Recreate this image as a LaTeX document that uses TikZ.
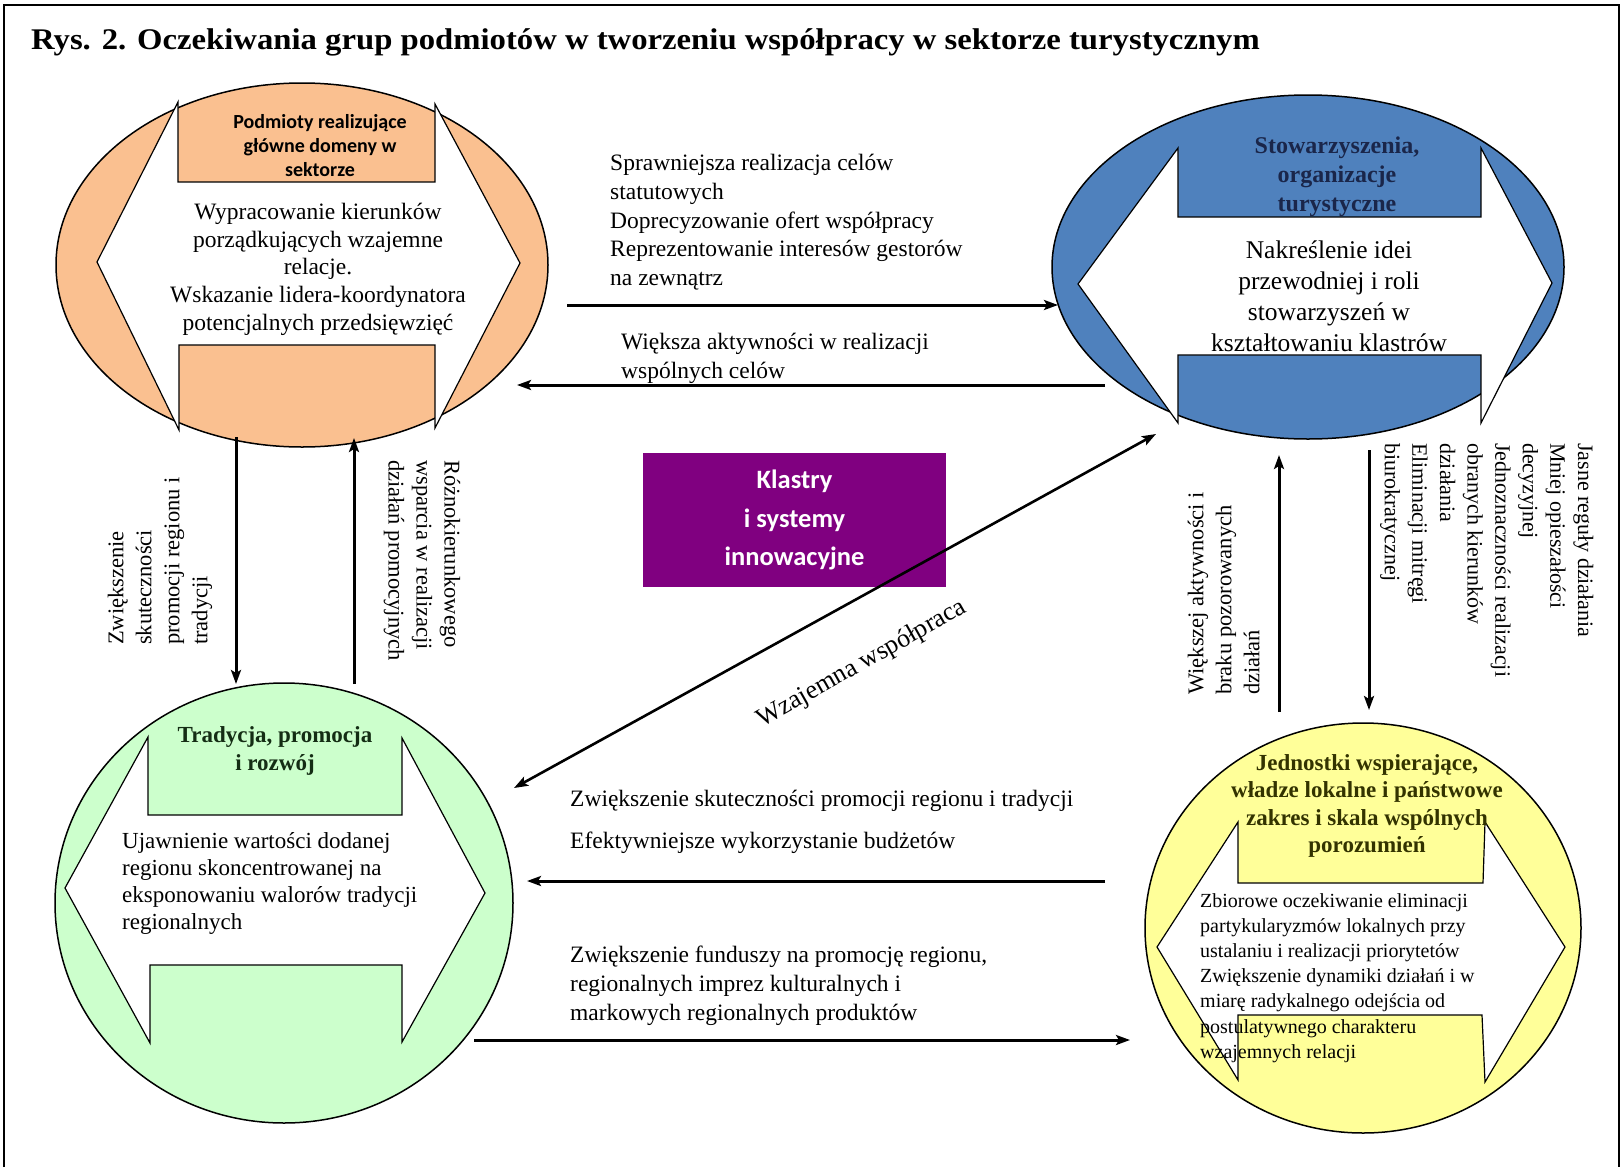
\documentclass[tikz,border=0pt]{standalone}
\usepackage{fontspec}
\setmainfont{Liberation Serif}
\newfontfamily\calib{Carlito}
\usetikzlibrary{shapes.geometric,arrows.meta}
\definecolor{orF}{RGB}{250,192,144}
\definecolor{blF}{RGB}{79,129,189}
\definecolor{grF}{RGB}{204,255,204}
\definecolor{yeF}{RGB}{255,255,153}
\definecolor{puF}{RGB}{128,0,128}
\definecolor{blT}{RGB}{26,38,74}
\definecolor{yeT}{RGB}{51,51,0}
\definecolor{grT}{RGB}{20,45,20}
\begin{document}
\begin{tikzpicture}[x=1pt,y=-1pt,
  blob/.style={ellipse, draw=black, line width=1.5pt, inner sep=0pt},
  innershape/.style={fill=white, draw=black, line width=1.2pt, line join=miter},
  lbl/.style={inner sep=0pt, font=\fontsize{23.5}{28.8}\selectfont, align=left},
  rlbl/.style={inner sep=0pt, font=\fontsize{22.5}{28}\selectfont, align=left},
  conn/.style={line width=3pt, -{Stealth[length=14pt,width=10pt,inset=3pt]}},
  dconn/.style={line width=2.6pt, {Stealth[length=14pt,width=10pt,inset=3pt]}-{Stealth[length=14pt,width=10pt,inset=3pt]}},
]
\useasboundingbox (0,0) rectangle (1622,1167);
% frame
\draw[line width=2.5pt] (4,1167) -- (4,5) -- (1619,5) -- (1619,1167);
% title
\node[anchor=west, inner sep=0pt, font=\bfseries\fontsize{30}{34}\selectfont] (title) at (31,42)
  {\scalebox{1.09}[1]{Rys. 2. Oczekiwania grup podmiotów w tworzeniu współpracy w sektorze turystycznym}};

% ---------- orange: Podmioty
\node[blob, fill=orF, minimum width=492pt, minimum height=364pt] (pod) at (302,265) {};
\path[innershape] (178,102) -- (178,182) -- (435,182) -- (435,104) -- (520,263) -- (435,428)
  -- (435,345) -- (179,345) -- (179,430) -- (97,262) -- cycle;
\node[anchor=north, inner sep=0pt, align=center, font=\calib\bfseries\fontsize{20}{24}\selectfont] (podT) at (320,114)
  {Podmioty realizujące\\główne domeny w\\sektorze};
\node[anchor=north, inner sep=0pt, align=center, font=\fontsize{23.5}{27.7}\selectfont] (podB) at (318,203)
  {Wypracowanie kierunków\\porządkujących wzajemne\\relacje.\\Wskazanie lidera-koordynatora\\potencjalnych przedsięwzięć};

% ---------- blue: Stowarzyszenia
\node[blob, fill=blF, minimum width=512pt, minimum height=344pt] (stow) at (1308,267) {};
\path[innershape] (1178,148) -- (1178,217) -- (1481,217) -- (1481,148) -- (1552,283) -- (1481,423)
  -- (1481,355) -- (1178,355) -- (1178,423) -- (1078,284) -- cycle;
\node[anchor=north, inner sep=0pt, align=center, text=blT, font=\bfseries\fontsize{24}{29}\selectfont] (stowT) at (1337,137)
  {Stowarzyszenia,\\organizacje\\turystyczne};
\node[anchor=north, inner sep=0pt, align=center, font=\fontsize{25.5}{31}\selectfont] (stowB) at (1329,241)
  {Nakreślenie idei\\przewodniej i roli\\stowarzyszeń w\\kształtowaniu klastrów};

% ---------- green: Tradycja
\node[blob, fill=grF, minimum width=458pt, minimum height=440pt] (trad) at (284,903) {};
\path[innershape] (148,737) -- (148,815) -- (402,815) -- (402,738) -- (485,893) -- (402,1042)
  -- (402,965) -- (150,965) -- (150,1043) -- (65,888) -- cycle;
\node[anchor=north, inner sep=0pt, align=center, text=grT, font=\bfseries\fontsize{23}{28}\selectfont] (tradT) at (275,726)
  {Tradycja, promocja\\i rozwój};
\node[anchor=north west, inner sep=0pt, align=left, font=\fontsize{23}{27}\selectfont] (tradB) at (122,832)
  {Ujawnienie wartości dodanej\\regionu skoncentrowanej na\\eksponowaniu walorów tradycji\\regionalnych};

% ---------- yellow: Jednostki
\node[blob, fill=yeF, minimum width=436pt, minimum height=410pt] (jedn) at (1363,928) {};
\path[innershape] (1238,822) -- (1238,883) -- (1483,883) -- (1485,822) -- (1565,947) -- (1485,1082)
  -- (1482,1015) -- (1238,1015) -- (1238,1080) -- (1157,947) -- cycle;
\node[anchor=north, inner sep=0pt, align=center, text=yeT, font=\bfseries\fontsize{23}{27.5}\selectfont] (jednT) at (1367,754)
  {Jednostki wspierające,\\władze lokalne i państwowe\\zakres i skala wspólnych\\porozumień};
\node[anchor=north west, inner sep=0pt, align=left, font=\fontsize{20}{25.2}\selectfont] (jednB) at (1200,893)
  {Zbiorowe oczekiwanie eliminacji\\partykularyzmów lokalnych przy\\ustalaniu i realizacji priorytetów\\Zwiększenie dynamiki działań i w\\miarę radykalnego odejścia od\\postulatywnego charakteru\\wzajemnych relacji};

% ---------- centre box
\node[fill=puF, minimum width=303pt, minimum height=134pt, inner sep=0pt, align=center, text=white,
  font=\calib\bfseries\fontsize{26.5}{38.5}\selectfont] (klaster) at (794.5,520) {Klastry\\i systemy\\innowacyjne};

% ---------- connector end points
\coordinate (a1s) at (567,305);  \coordinate (a1e) at (1058,305);
\coordinate (a2s) at (1105,385); \coordinate (a2e) at (517,385);
\coordinate (a3s) at (236,437);  \coordinate (a3e) at (236,684);
\coordinate (a4s) at (354,684);  \coordinate (a4e) at (354,438);
\coordinate (a5s) at (514,788);  \coordinate (a5e) at (1156,434);
\coordinate (a6s) at (1105,881); \coordinate (a6e) at (527,881);
\coordinate (a7s) at (474,1040); \coordinate (a7e) at (1130,1040);
\coordinate (a8s) at (1279,712); \coordinate (a8e) at (1279,455);
\coordinate (a9s) at (1369,450); \coordinate (a9e) at (1369,710);

\draw[conn] (a1s) -- (a1e);
\draw[conn] (a2s) -- (a2e);
\draw[conn] (a3s) -- (a3e);
\draw[conn] (a4s) -- (a4e);
\draw[dconn] (a5s) -- (a5e);
\draw[conn] (a6s) -- (a6e);
\draw[conn] (a7s) -- (a7e);
\draw[conn] (a8s) -- (a8e);
\draw[conn] (a9s) -- (a9e);

% ---------- connector labels
\node[lbl, anchor=north west] (l1) at (610,154)
  {Sprawniejsza realizacja celów\\statutowych\\Doprecyzowanie ofert współpracy\\Reprezentowanie interesów gestorów\\na zewnątrz};
\node[lbl, anchor=north west] (l2) at (621,333)
  {Większa aktywności w realizacji\\wspólnych celów};
\node[lbl, anchor=north west] (l6) at (570,790)
  {Zwiększenie skuteczności promocji regionu i tradycji\\[13pt]Efektywniejsze wykorzystanie budżetów};
\node[lbl, anchor=north west] (l7) at (570,946)
  {Zwiększenie funduszy na promocję regionu,\\regionalnych imprez kulturalnych i\\markowych regionalnych produktów};
\node[rlbl, rotate=90, anchor=north west] (l3) at (107.5,645)
  {Zwiększenie\\skuteczności\\promocji regionu i\\tradycji};
\node[rlbl, rotate=-90, anchor=north west] (l4) at (460.5,460)
  {Różnokierunkowego\\wsparcia w realizacji\\działań promocyjnych};
\node[rlbl, rotate=90, anchor=north west] (l8) at (1187.5,695)
  {Większej aktywności i\\braku pozorowanych\\działań};
\node[rlbl, rotate=-90, anchor=north west, font=\fontsize{22}{27.6}\selectfont] (l9) at (1593.5,443)
  {Jasne reguły działania\\Mniej opieszałości\\decyzyjnej\\Jednoznaczności realizacji\\obranych kierunków\\działania\\Eliminacji mitręgi\\biurokratycznej};
\node[rotate=29.5, inner sep=0pt, font=\fontsize{26}{30}\selectfont] (l5) at (862,664) {Wzajemna współpraca};
\end{tikzpicture}
\end{document}
